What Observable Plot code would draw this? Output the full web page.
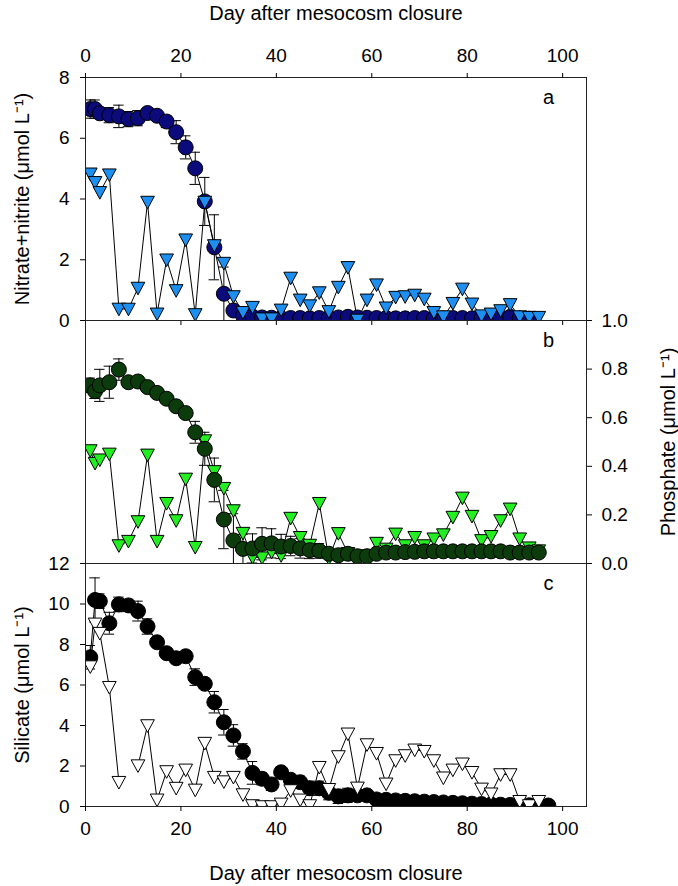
<!DOCTYPE html>
<html><head><meta charset="utf-8">
<script src="https://cdn.jsdelivr.net/npm/d3@7"></script>
<script src="https://cdn.jsdelivr.net/npm/@observablehq/plot@0.6"></script>
<style>
body{margin:0;background:#fff;}
#chart{width:678px;height:886px;}
#chart svg{display:block;overflow:visible;}
</style>
</head><body><div id="chart"></div>
<script>
// ---- data ----
const days = [1,2,3,5,7,9,11,13,15,17,19,21,23,25,27,29,31,33,35,37,39,41,43,45,47,49,51,53,55,57,59,61,63,65,67,69,71,73,75,77,79,81,83,85,87,89,91,93,95,97];
const xTicks = [0,20,40,60,80,100];
const xLabel = "Day after mesocosm closure";

const nitrateMean = [6.96,6.96,6.82,6.76,6.72,6.63,6.66,6.83,6.74,6.55,6.2,5.7,5.01,3.92,2.41,0.88,0.33,0.16,0.13,0.1,0.09,0.08,0.08,0.08,0.07,0.08,0.09,0.1,0.12,0.1,0.09,0.08,0.08,0.07,0.07,0.08,0.08,0.07,0.07,0.08,0.08,0.07,0.07,0.08,0.09,0.12,0.07,0.06,null,null];
const nitrateSD = [0.3,0.3,0.15,0.25,0.37,0.25,0.25,0.12,0.1,0.2,0.38,0.38,0.53,0.79,1.07,0.88,0.1,0.05,0.04,0.03,0.03,0.03,0.03,0.03,0.03,0.03,0.03,0.03,0.03,0.03,0.03,0.03,0.03,0.03,0.03,0.03,0.03,0.03,0.03,0.03,0.03,0.03,0.03,0.03,0.03,0.03,0.03,0.03,null,null];
const nitrateTri = [4.83,4.55,4.22,4.8,0.38,0.38,1.07,3.9,0.22,2.0,0.99,2.66,0.2,3.9,2.47,1.89,0.79,0.27,0.44,0.06,0.06,0.35,1.4,0.68,0.49,0.92,0.3,1.1,1.75,0.02,0.68,1.18,0.42,0.77,0.79,0.84,0.71,0.27,0.13,0.57,1.04,0.55,0.16,0.22,0.33,0.53,0.13,0.11,0.11,null];
const nitrateTicks = [0,2,4,6,8];
const nitrateLabel = "Nitrate+nitrite (\u03bcmol L\u207b\u00b9)";

const phosphateMean = [0.733,0.709,0.733,0.746,0.798,0.746,0.749,0.726,0.702,0.678,0.647,0.619,0.54,0.472,0.344,0.181,0.095,0.06,0.062,0.081,0.083,0.07,0.072,0.062,0.055,0.052,0.04,0.034,0.04,0.03,0.03,0.04,0.045,0.045,0.047,0.048,0.05,0.05,0.05,0.05,0.05,0.05,0.05,0.05,0.05,0.045,0.045,0.045,0.045,null];
const phosphateSD = [0.03,0.03,0.066,0.066,0.044,0.02,0.02,0.015,0.015,0.015,0.015,0.02,0.045,0.068,0.09,0.12,0.11,0.06,0.06,0.066,0.06,0.05,0.04,0.04,0.035,0.03,0.02,0.015,0.015,0.01,0.01,0.01,0.01,0.01,0.01,0.01,0.01,0.01,0.01,0.01,0.01,0.01,0.01,0.01,0.01,0.01,0.01,0.01,0.01,null];
const phosphateTri = [0.465,0.413,0.427,0.451,0.074,0.092,0.173,0.447,0.092,0.248,0.177,0.348,0.067,0.506,0.379,0.31,0.218,0.125,0.026,0.024,0.047,0.033,0.187,0.108,0.076,0.248,0.022,0.124,0.042,0.015,0.033,0.084,0.06,0.122,0.074,0.108,0.074,0.102,0.119,0.191,0.27,0.195,0.095,0.112,0.177,0.225,0.102,0.065,0.053,null];
const phosphateTicks = [0,0.2,0.4,0.6,0.8,1.0];
const phosphateLabel = "Phosphate (\u03bcmol L\u207b\u00b9)";

const silicateMean = [7.37,10.2,10.14,9.05,9.98,9.93,9.65,8.89,8.11,7.57,7.32,7.42,6.39,6.06,5.15,4.16,3.51,2.72,1.66,1.37,1.09,1.69,1.32,1.2,0.9,0.9,0.68,0.5,0.55,0.55,0.55,0.35,0.33,0.3,0.28,0.26,0.24,0.22,0.2,0.18,0.16,0.14,0.12,0.1,0.09,0.08,0.07,0.06,0.05,0.05];
const silicateSD = [0.58,1.09,0.36,0.54,0.36,0.3,0.49,0.38,0.2,0.15,0.15,0.15,0.41,0.2,0.53,0.63,0.53,0.38,0.56,0.3,0.3,0.25,0.25,0.3,0.35,0.35,0.35,0.35,0.35,0.3,0.25,0.05,0.05,0.05,0.05,0.05,0.05,0.05,0.05,0.05,0.05,0.05,0.05,0.05,0.05,0.05,0.05,0.05,0.05,0.05];
const silicateTri = [6.91,9.02,8.56,5.89,1.2,null,2.02,4.0,0.33,1.73,0.91,1.81,0.82,3.13,1.45,1.23,1.45,0.59,0.05,0.0,0.0,0.13,0.79,0.33,0.05,1.94,0.85,2.47,3.59,0.92,3.06,2.63,1.12,2.27,2.52,2.8,2.73,2.27,1.42,1.81,2.11,1.69,0.87,0.63,1.58,1.58,0.26,0.05,0.26,null];
const silicateTicks = [0,2,4,6,8,10,12];
const silicateLabel = "Silicate (\u03bcmol L\u207b\u00b9)";

// ---- drawing ----
const FONT = "'Liberation Sans', Arial, sans-serif";
const downTriangle = {
  draw(ctx, size) {
    const r = Math.sqrt(size / Math.PI);
    const w = r * 0.95;
    ctx.moveTo(-w, -0.8 * r);
    ctx.lineTo(w, -0.8 * r);
    ctx.lineTo(0, 0.95 * r);
    ctx.closePath();
  }
};

function panel(o) {
  const rows = days.map((day, i) => ({day, mean: o.mean[i], sd: o.sd[i], tri: o.tri[i]}));
  const circ = rows.filter(d => d.mean != null);
  const tris = rows.filter(d => d.tri != null);
  const triMark = Plot.dot(tris, {x: "day", y: "tri", symbol: downTriangle, r: 7.2, fill: o.triFill, stroke: "black", strokeWidth: 1, clip: true});
  const circMark = Plot.dot(circ, {x: "day", y: "mean", r: 7.5, fill: o.circleFill, stroke: "black", strokeWidth: 1, clip: true});
  const marks = [
    Plot.line(rows, {x: "day", y: "tri", stroke: "black", strokeWidth: 1, clip: true}),
    Plot.line(circ, {x: "day", y: "mean", stroke: "black", strokeWidth: 1, clip: true}),
    Plot.ruleX(circ, {x: "day", y1: d => d.mean - d.sd, y2: d => d.mean + d.sd, stroke: "black", strokeWidth: 1, clip: true}),
    Plot.ruleY(circ, {y: d => d.mean + d.sd, x1: d => d.day - 1.1, x2: d => d.day + 1.1, stroke: "black", strokeWidth: 1, clip: true}),
    Plot.ruleY(circ, {y: d => d.mean - d.sd, x1: d => d.day - 1.1, x2: d => d.day + 1.1, stroke: "black", strokeWidth: 1, clip: true}),
    ...(o.trianglesOnTop ? [circMark, triMark] : [triMark, circMark]),
    Plot.frame({stroke: "#222", strokeWidth: 1}),
    Plot.text([o.letter], {frameAnchor: "top-right", dx: -38, dy: 20, textAnchor: "middle", lineAnchor: "middle", fontSize: 20, fill: "black"}),
    ...o.extra
  ];
  return Plot.plot({
    width: 678,
    height: o.height,
    marginLeft: 85,
    marginRight: 92,
    marginTop: o.marginTop,
    marginBottom: o.marginBottom,
    style: {fontFamily: FONT, fontSize: "19px", background: "transparent", overflow: "visible", color: "black"},
    x: {domain: [0, 105], axis: null},
    y: {domain: o.yDomain, axis: null},
    marks
  });
}

const chart = document.getElementById("chart");

chart.append(panel({
  mean: nitrateMean, sd: nitrateSD, tri: nitrateTri,
  yDomain: [0, 8], circleFill: "#0b0b7c", triFill: "#1c8ff0", trianglesOnTop: true, letter: "a",
  height: 320, marginTop: 77, marginBottom: 0,
  extra: [
    Plot.axisX({anchor: "top", ticks: xTicks, tickSize: 5, tickPadding: 11, label: null, fontSize: 19}),
    Plot.axisX({anchor: "bottom", ticks: xTicks, tickSize: 5, tickFormat: () => "", label: null}),
    Plot.axisY({anchor: "left", ticks: nitrateTicks, tickSize: 5, tickPadding: 11, label: null, fontSize: 19}),
    Plot.text([xLabel], {frameAnchor: "top", dy: -64, lineAnchor: "middle", textAnchor: "middle", fontSize: 20, fill: "black"}),
    Plot.text([nitrateLabel], {frameAnchor: "left", dx: -63, rotate: -90, textAnchor: "middle", lineAnchor: "middle", fontSize: 20, fill: "black"})
  ]
}));

chart.append(panel({
  mean: phosphateMean, sd: phosphateSD, tri: phosphateTri,
  yDomain: [0, 1], circleFill: "#0c3c0c", triFill: "#22ee22", trianglesOnTop: false, letter: "b",
  height: 243, marginTop: 0, marginBottom: 0,
  extra: [
    Plot.axisY({anchor: "right", ticks: phosphateTicks, tickFormat: d3.format(".1f"), tickSize: 5, tickPadding: 10, label: null, fontSize: 19}),
    Plot.text([phosphateLabel], {frameAnchor: "right", dx: 82, rotate: -90, textAnchor: "middle", lineAnchor: "middle", fontSize: 20, fill: "black"})
  ]
}));

chart.append(panel({
  mean: silicateMean, sd: silicateSD, tri: silicateTri,
  yDomain: [0, 12], circleFill: "#000000", triFill: "#ffffff", trianglesOnTop: true, letter: "c",
  height: 323, marginTop: 0, marginBottom: 80,
  extra: [
    Plot.axisX({anchor: "bottom", ticks: xTicks, tickSize: 5, tickPadding: 10, label: null, fontSize: 19}),
    Plot.axisY({anchor: "left", ticks: silicateTicks, tickSize: 5, tickPadding: 11, label: null, fontSize: 19}),
    Plot.text([xLabel], {frameAnchor: "bottom", dy: 67, lineAnchor: "middle", textAnchor: "middle", fontSize: 20, fill: "black"}),
    Plot.text([silicateLabel], {frameAnchor: "left", dx: -63, rotate: -90, textAnchor: "middle", lineAnchor: "middle", fontSize: 20, fill: "black"})
  ]
}));
</script></body></html>
